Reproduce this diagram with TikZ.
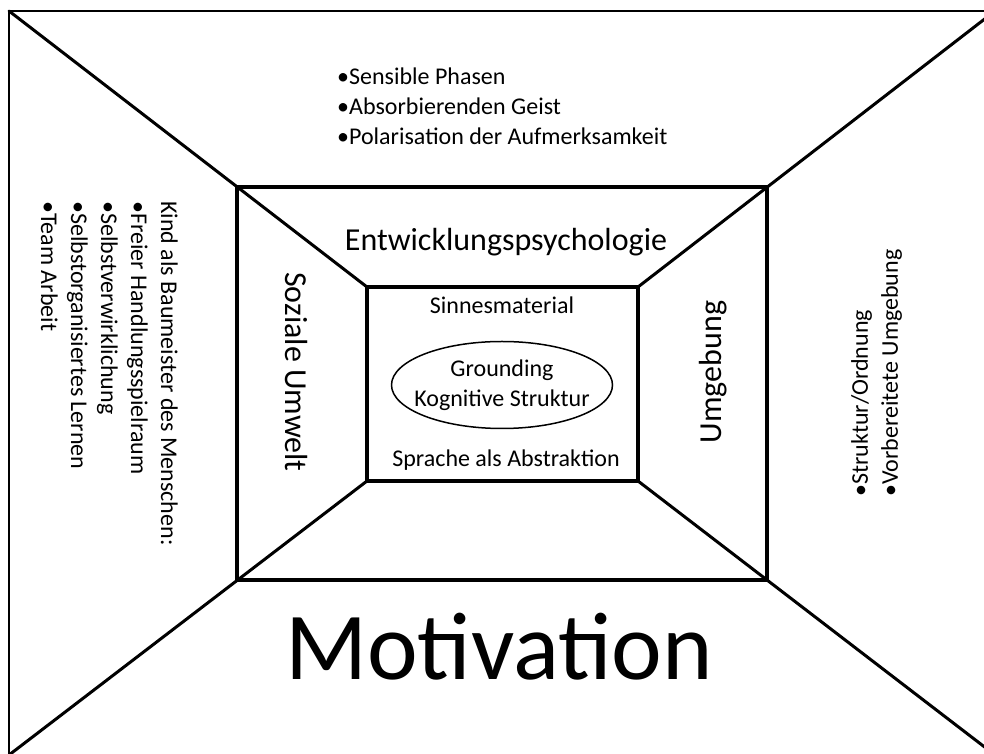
\documentclass[tikz,border=0pt]{standalone}
\usepackage{fontspec}
\setmainfont{Carlito}
\usepackage{tkz-euclide}

\tikzset{
  lbl/.style={inner sep=0pt, font=\fontsize{24}{30}\selectfont},
  biglbl/.style={inner sep=0pt, font=\fontsize{32}{38}\selectfont}
}

\begin{document}
\begin{tikzpicture}[x=1pt,y=1pt]
\useasboundingbox (0,0) rectangle (984,754);
\clip (0,0) rectangle (984,754);
\tkzDefPoint(9,743){A}
\tkzDefPoint(995,743){B}
\tkzDefPoint(995,-1){C}
\tkzDefPoint(9,-1){D}
\tkzDefPoint(237,567){E}
\tkzDefPoint(767,567){F}
\tkzDefPoint(767,174){G}
\tkzDefPoint(237,174){H}
\tkzDefPoint(367,467){I}
\tkzDefPoint(638,467){J}
\tkzDefPoint(638,273){K}
\tkzDefPoint(367,273){L}
\tkzDefPoint(502,369){M}
\tkzDrawPolygon[line width=2pt](A,B,C,D)
\tkzDrawSegments[line width=3pt](A,I B,J C,K D,L)
\tkzDrawPolygon[line width=3.5pt](E,F,G,H)
\tkzDrawPolygon[line width=3.5pt](I,J,K,L)
\draw[line width=1.5pt] (M) ellipse [x radius=110.5, y radius=43.5];
\node[lbl, anchor=north west, align=left] (phasen) at (337,686)
  {\textbullet Sensible Phasen\\\textbullet Absorbierenden Geist\\\textbullet Polarisation der Aufmerksamkeit};
\node[biglbl] (entw) at (506,512) {Entwicklungspsychologie};
\node[biglbl, rotate=-90] (sozial) at (296,382) {Soziale Umwelt};
\node[biglbl, rotate=90] (umgeb) at (713,382) {Umgebung};
\node[lbl] (sinnes) at (502,449) {Sinnesmaterial};
\node[lbl, align=center] (ground) at (M) {Grounding\\Kognitive Struktur};
\node[lbl] (sprache) at (506,294) {Sprache als Abstraktion};
\node[lbl, rotate=-90, anchor=north west, align=left] (kind) at (178,553)
  {Kind als Baumeister des Menschen:\\\textbullet Freier Handlungsspielraum\\\textbullet Selbstverwirklichung\\\textbullet Selbstorganisiertes Lernen\\\textbullet Team Arbeit};
\node[lbl, rotate=90, anchor=north west, align=left] (ordnung) at (851,257)
  {\textbullet Struktur/Ordnung\\\textbullet Vorbereitete Umgebung};
\node[inner sep=0pt, font=\fontsize{96}{110}\selectfont, anchor=base] (motiv) at (499,74) {Motivation};
\end{tikzpicture}
\end{document}
